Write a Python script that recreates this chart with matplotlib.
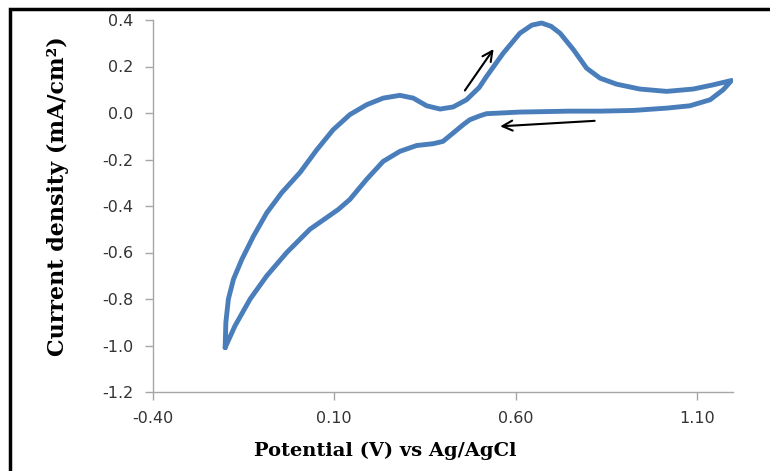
import matplotlib
matplotlib.use("Agg")
import matplotlib.pyplot as plt
from matplotlib.lines import Line2D

# Anodic (forward) scan
forward_potential = [-0.201, -0.199, -0.192, -0.178, -0.155, -0.123, -0.086, -0.045, 0.006,
                     0.052, 0.097, 0.143, 0.190, 0.235, 0.281, 0.318, 0.355, 0.392,
                     0.428, 0.465, 0.500, 0.520, 0.566, 0.612, 0.645, 0.672, 0.698, 0.723,
                     0.760, 0.796, 0.833, 0.879, 0.943, 1.017, 1.090, 1.145, 1.196]
forward_current = [-1.009, -0.900, -0.800, -0.715, -0.630, -0.530, -0.429, -0.343, -0.255,
                   -0.158, -0.072, -0.007, 0.036, 0.064, 0.076, 0.064, 0.031, 0.017,
                   0.026, 0.057, 0.110, 0.157, 0.257, 0.343, 0.378, 0.387, 0.373, 0.343,
                   0.272, 0.193, 0.150, 0.124, 0.103, 0.093, 0.103, 0.121, 0.140]

# Cathodic (reverse) scan
reverse_potential = [1.196, 1.173, 1.137, 1.081, 1.017, 0.925, 0.833, 0.750, 0.612,
                     0.520, 0.502, 0.474, 0.456, 0.428, 0.400, 0.373, 0.327, 0.281,
                     0.235, 0.189, 0.143, 0.111, 0.079, 0.033, -0.031, -0.086, -0.132,
                     -0.174, -0.201]
reverse_current = [0.140, 0.100, 0.057, 0.031, 0.021, 0.011, 0.008, 0.008, 0.004,
                   -0.003, -0.012, -0.029, -0.050, -0.086, -0.122, -0.132, -0.140, -0.165,
                   -0.208, -0.286, -0.372, -0.415, -0.450, -0.500, -0.600, -0.700, -0.800,
                   -0.916, -1.009]

x_ticks = [-0.40, 0.10, 0.60, 1.10]
x_ticklabels = ["-0.40", "0.10", "0.60", "1.10"]
y_ticks = [-1.2, -1.0, -0.8, -0.6, -0.4, -0.2, 0.0, 0.2, 0.4]
y_ticklabels = ["-1.2", "-1.0", "-0.8", "-0.6", "-0.4", "-0.2", "0.0", "0.2", "0.4"]

W, H = 770, 471
fig = plt.figure(figsize=(W / 100, H / 100), dpi=100)
ax = fig.add_axes([153 / W, 1 - 392 / H, (733 - 153) / W, (392 - 20) / H])

color = "#4a7ebb"
ax.plot(forward_potential + reverse_potential[1:], forward_current + reverse_current[1:],
        color=color, lw=3.5, solid_joinstyle="round", solid_capstyle="round")

ax.set_xlim(-0.40, 1.20)
ax.set_ylim(-1.2, 0.4)
ax.set_xticks(x_ticks)
ax.set_xticklabels(x_ticklabels)
ax.set_yticks(y_ticks)
ax.set_yticklabels(y_ticklabels)

for s in ["top", "right"]:
    ax.spines[s].set_visible(False)
for s in ["left", "bottom"]:
    ax.spines[s].set_color("#a6a6a6")
    ax.spines[s].set_linewidth(1.0)
ax.tick_params(axis="both", direction="out", length=6, width=1.0, color="#a6a6a6",
               labelsize=11.5, labelcolor="#333333", pad=8)

ax.set_xlabel("Potential (V) vs Ag/AgCl", fontsize=14, fontweight="bold",
              family="DejaVu Serif")
ax.xaxis.set_label_coords(0.40, -0.135)
ax.set_ylabel("Current density (mA/cm²)", fontsize=16, fontweight="bold",
              family="DejaVu Serif")
ax.yaxis.set_label_coords(-0.145, 0.527)

# scan direction arrows
ax.annotate("", xy=(0.544, 0.285), xytext=(0.456, 0.087),
            arrowprops=dict(arrowstyle="->", color="black", lw=1.5, mutation_scale=18))
ax.annotate("", xy=(0.550, -0.058), xytext=(0.826, -0.033),
            arrowprops=dict(arrowstyle="->", color="black", lw=1.5, mutation_scale=18))

# partial frame (left and top border)
fig.add_artist(Line2D([9.5 / W, 9.5 / W, 1], [0, 1 - 8.5 / H, 1 - 8.5 / H],
                      transform=fig.transFigure, color="black", lw=2.5,
                      solid_joinstyle="miter", solid_capstyle="butt"))

fig.savefig("out.png", dpi=100)
